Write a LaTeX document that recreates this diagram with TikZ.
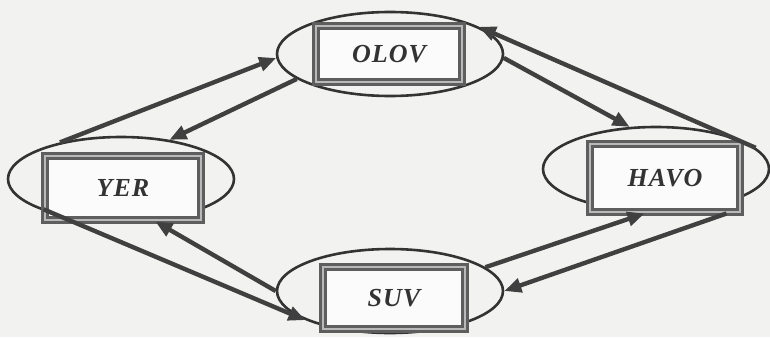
\documentclass[tikz,border=0pt]{standalone}
\usepackage{fontspec}
\setmainfont{Liberation Serif}
\usetikzlibrary{arrows.meta,shapes.geometric}
\definecolor{bg}{HTML}{F2F2F0}
\definecolor{ink}{HTML}{333333}
\definecolor{boxgray}{HTML}{5E5E5E}
\begin{document}
\begin{tikzpicture}[x=1pt,y=-1pt,
  oval/.style={draw=ink, line width=2.6pt, ellipse, minimum width=226pt, minimum height=84pt, inner sep=0pt},
  framebox/.style={draw=boxgray, line width=3pt, double=gray!55, double distance=1.8pt, fill=white!97!gray,
    minimum width=150pt, minimum height=62pt, inner sep=0pt,
    font=\fontsize{26}{26}\selectfont\bfseries\itshape\addfontfeatures{LetterSpace=4}, text=ink},
  link/.style={draw=gray!50!black, line width=4.4pt, -{Triangle[length=17pt,width=14pt]}}]
\fill[bg] (0,0) rectangle (770,337);
\useasboundingbox (0,0) rectangle (770,337);
% ellipses
\node[oval] (olov) at (390,54) {};
\node[oval] (yer) at (121,179) {};
\node[oval] (havo) at (656,169) {};
\node[oval] (suv) at (390,291) {};
% framed boxes
\node[framebox, minimum width=146pt, minimum height=56pt] (olovbox) at (389,54) {OLOV};
\node[framebox, minimum width=156pt, minimum height=64pt] (yerbox) at (123,188) {YER};
\node[framebox, minimum width=150pt, minimum height=68pt] (havobox) at (665,178) {HAVO};
\node[framebox, minimum width=142pt, minimum height=62pt] (suvbox) at (394,298) {SUV};
% arrows
\draw[link] (yer.149) -- (olov.182);
\draw[link] (olov.195) -- (yer.39);
\draw[link] (havo.12) -- (olov.17);
\draw[link] (olov.-2) -- (havo.122);
\draw[link] (yerbox.-165) -- (suv.199);
\draw[link] (suv.180) -- (yerbox.-46);
\draw[link] (suv.14) -- (havobox.-120);
\draw[link] (havobox.-30) -- (suv.0);
\end{tikzpicture}
\end{document}
